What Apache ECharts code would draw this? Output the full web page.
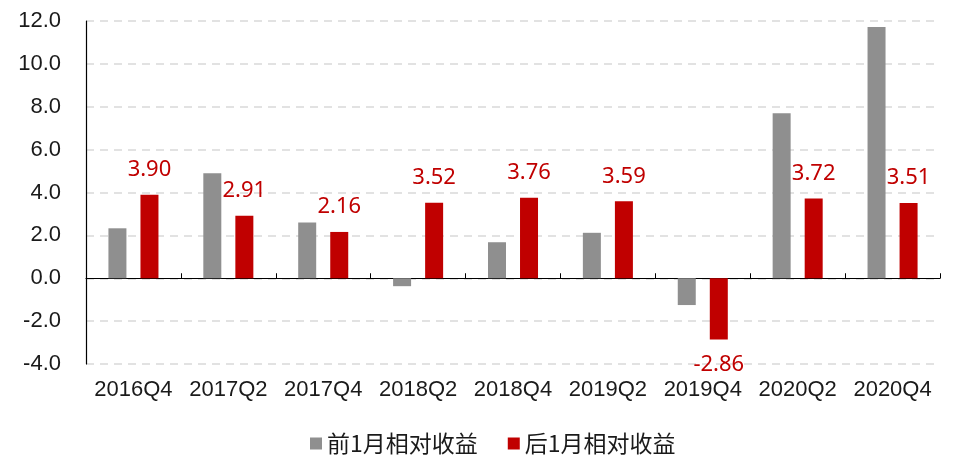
<!DOCTYPE html>
<html>
<head>
<meta charset="utf-8">
<script src="https://cdn.jsdelivr.net/npm/echarts@6/dist/echarts.min.js"></script>
<style>html,body{margin:0;padding:0;background:#fff}#c{width:954px;height:468px}</style>
</head>
<body>
<div id="c"></div>
<script>
var categories = ['2016Q4','2017Q2','2017Q4','2018Q2','2018Q4','2019Q2','2019Q4','2020Q2','2020Q4'];
var prevMonth = [2.33, 4.90, 2.60, -0.37, 1.68, 2.12, -1.25, 7.70, 11.72];
var nextMonth = [3.90, 2.91, 2.16, 3.52, 3.76, 3.59, -2.86, 3.72, 3.51];
var seriesNames = ['前1月相对收益', '后1月相对收益'];
var yTicks = {min: -4, max: 12, interval: 2};

var chart = echarts.init(document.getElementById('c'));
var axisFont = {fontFamily: 'Liberation Sans, Arial, sans-serif', fontSize: 22, color: '#1a1a1a'};
chart.setOption({
  animation: false,
  grid: {left: 86, right: 14, top: 21, bottom: 104},
  legend: {
    bottom: 8, left: 305,
    itemWidth: 12, itemHeight: 12, itemGap: 30,
    icon: 'rect',
    textStyle: {fontFamily: 'Noto Sans CJK SC', fontSize: 23, color: '#1a1a1a'},
    data: seriesNames
  },
  xAxis: [{
    type: 'category', data: categories,
    axisLine: {onZero: true, lineStyle: {color: '#000', width: 1.2}},
    axisTick: {show: true, inside: true, length: 5, lineStyle: {color: '#000'}},
    axisLabel: {show: false}
  }, {
    type: 'category', data: categories, position: 'bottom',
    axisLine: {show: false, onZero: false},
    axisTick: {show: false},
    axisLabel: Object.assign({margin: 15, interval: 0}, axisFont)
  }],
  yAxis: {
    type: 'value', min: yTicks.min, max: yTicks.max, interval: yTicks.interval,
    axisLine: {show: true, lineStyle: {color: '#000', width: 1.2}},
    axisTick: {show: false},
    axisLabel: Object.assign({margin: 25, formatter: function(v){return v.toFixed(1);}}, axisFont),
    splitLine: {show: true, lineStyle: {color: '#d9d9d9', width: 1.5, type: [8, 6]}}
  },
  series: [{
    name: seriesNames[0], type: 'bar', xAxisIndex: 0,
    data: prevMonth, barWidth: 18, barGap: '78%',
    itemStyle: {color: '#8f8f8f'}
  }, {
    name: seriesNames[1], type: 'bar', xAxisIndex: 0,
    data: nextMonth.map(function(v){
      return {value: v, label: {position: v < 0 ? 'bottom' : 'top'}};
    }),
    barWidth: 18,
    itemStyle: {color: '#c00000'},
    label: {show: true, distance: 14, color: '#c00000', fontFamily: 'Noto Sans', fontSize: 22,
      formatter: function(p){return p.value.toFixed(2);}}
  }]
});
</script>
</body>
</html>
